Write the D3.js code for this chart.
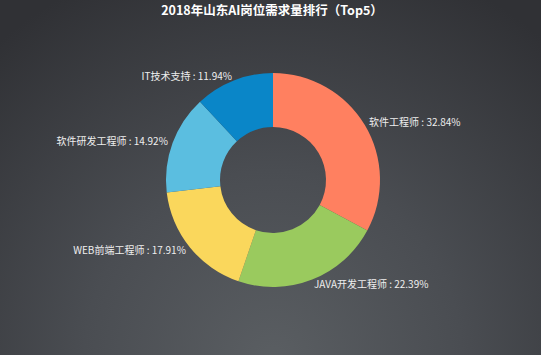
<!DOCTYPE html>
<html><head><meta charset="utf-8">
<script src="https://cdn.jsdelivr.net/npm/d3@7"></script>
<style>html,body{margin:0;padding:0;overflow:hidden;}svg{display:block;}</style>
</head><body>
<svg id="chart" width="541" height="355"></svg>
<script>
const categories = ["软件工程师", "JAVA开发工程师", "WEB前端工程师", "软件研发工程师", "IT技术支持"];
const percents = [32.84, 22.39, 17.91, 14.92, 11.94];
const colors = ["#ff8060", "#9aca5e", "#fad75c", "#5bbee0", "#0a86c8"];
const title = "2018年山东AI岗位需求量排行（Top5）";

const W = 541, H = 355, cx = 273, cy = 180, R = 107, r0 = 53;
const svg = d3.select("#chart");
const defs = svg.append("defs");
const grad = defs.append("radialGradient").attr("id", "bg")
  .attr("gradientUnits", "userSpaceOnUse")
  .attr("cx", 273).attr("cy", 360).attr("r", 420);
grad.append("stop").attr("offset", "0%").attr("stop-color", "#5a5e62");
grad.append("stop").attr("offset", "45%").attr("stop-color", "#4a4d52");
grad.append("stop").attr("offset", "100%").attr("stop-color", "#303135");
svg.append("rect").attr("width", W).attr("height", H).attr("fill", "url(#bg)");

svg.append("text").attr("x", 272).attr("y", 12)
  .attr("text-anchor", "middle").attr("dominant-baseline", "middle")
  .attr("font-family", "'Noto Sans CJK SC', sans-serif").attr("font-weight", "bold")
  .attr("font-size", 12.5).attr("fill", "#ffffff").text(title);

const data = categories.map((c, i) => ({ name: c, value: percents[i], color: colors[i] }));
const pie = d3.pie().value(d => d.value).sort(null);
const arcs = pie(data);
const arc = d3.arc().innerRadius(r0).outerRadius(R);
const g = svg.append("g").attr("transform", `translate(${cx},${cy})`);
g.selectAll("path").data(arcs).join("path")
  .attr("d", arc).attr("fill", d => d.data.color);

const labelArc = d3.arc().innerRadius(R + 5).outerRadius(R + 5);
g.selectAll("text.lbl").data(arcs).join("text").attr("class", "lbl")
  .attr("transform", d => { const p = labelArc.centroid(d); return `translate(${p[0]},${p[1] + 1})`; })
  .attr("text-anchor", d => ((d.startAngle + d.endAngle) / 2 < Math.PI ? "start" : "end"))
  .attr("dominant-baseline", "middle")
  .attr("font-family", "'Noto Sans CJK SC', sans-serif").attr("font-size", 10)
  .attr("fill", "#eeeeee")
  .text(d => `${d.data.name} : ${d.data.value.toFixed(2)}%`);
</script>
</body></html>
